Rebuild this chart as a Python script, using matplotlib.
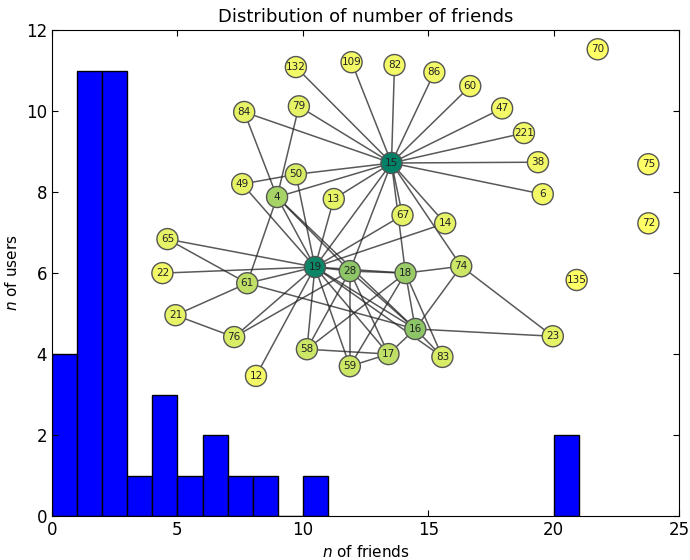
import numpy as np
import matplotlib
matplotlib.use("Agg")
import matplotlib.pyplot as plt

# histogram: number of friends -> number of users
n_friends = [0, 1, 2, 3, 4, 5, 6, 7, 8, 9, 10, 20]
n_users = [4, 11, 11, 1, 3, 1, 2, 1, 1, 0, 1, 2]

# friendship graph (node positions read in the axes' data units)
node_ids = [15, 19, 28, 18, 16, 74, 4, 61, 132, 109, 82, 86, 60, 47, 221, 38, 6,
            70, 75, 72, 135, 84, 79, 50, 49, 13, 67, 14, 65, 22, 21, 76, 12,
            58, 59, 17, 83, 23]
node_x = [13.53, 10.48, 11.87, 14.09, 14.48, 16.31, 8.97, 7.78, 9.72, 11.94, 13.65,
          15.24, 16.67, 17.94, 18.81, 19.37, 19.56, 21.75, 23.77, 23.77, 20.91,
          7.66, 9.84, 9.72, 7.58, 11.23, 13.97, 15.67, 4.60, 4.40, 4.92, 7.26,
          8.13, 10.16, 11.87, 13.41, 15.56, 19.96]
node_y = [8.72, 6.15, 6.05, 6.00, 4.62, 6.17, 7.88, 5.75, 11.09, 11.21, 11.14,
          10.96, 10.62, 10.07, 9.46, 8.74, 7.95, 11.53, 8.69, 7.23, 5.83,
          9.98, 10.12, 8.44, 8.20, 7.83, 7.43, 7.23, 6.84, 6.00, 4.96, 4.42,
          3.46, 4.12, 3.70, 4.00, 3.93, 4.44]
edges = [
    (15, 132), (15, 109), (15, 82), (15, 86), (15, 60), (15, 47), (15, 221),
    (15, 38), (15, 6), (15, 13), (15, 79), (15, 84), (15, 14), (15, 67),
    (15, 50), (15, 4), (15, 19), (15, 28), (15, 18), (15, 74),
    (19, 13), (19, 14), (19, 67), (19, 50), (19, 49), (19, 4), (19, 61),
    (19, 65), (19, 22), (19, 12), (19, 76), (19, 58), (19, 59), (19, 17),
    (19, 16), (19, 28), (19, 18), (19, 83),
    (50, 49), (4, 79), (4, 84), (4, 61), (4, 28), (4, 16),
    (61, 65), (61, 21), (61, 16), (21, 76), (76, 28),
    (28, 18), (28, 58), (28, 59), (28, 17), (28, 16),
    (18, 74), (18, 16), (18, 58), (18, 59), (18, 83),
    (16, 74), (16, 23), (16, 17), (16, 83), (74, 23), (58, 17), (59, 17),
]

pos = {n: (x, y) for n, x, y in zip(node_ids, node_x, node_y)}
degree = {n: 0 for n in node_ids}
for a, b in edges:
    degree[a] += 1
    degree[b] += 1

plt.rcParams['font.family'] = ['DejaVu Sans']
plt.rcParams['mathtext.fontset'] = 'dejavusans'

fig = plt.figure(figsize=(6.9, 5.6), dpi=100)
ax = fig.add_axes([0.0754, 0.0786, 0.9090, 0.8674])

ax.bar(n_friends, n_users, width=1, align='edge', color='#0000ff',
       edgecolor='black', linewidth=1, zorder=1)

for a, b in edges:
    ax.plot([pos[a][0], pos[b][0]], [pos[a][1], pos[b][1]],
            color='#222222', lw=1.1, alpha=0.75, zorder=2)

deg = np.array([degree[n] for n in node_ids])
ax.scatter(node_x, node_y, s=230, c=deg, cmap='summer_r', vmin=0, vmax=deg.max(),
           edgecolors='#555555', linewidths=1, zorder=3)
for n, x, y in zip(node_ids, node_x, node_y):
    ax.text(x, y, str(n), fontsize=7.5, ha='center', va='center',
            color='#222222', zorder=4)

ax.set_xlim(0, 25)
ax.set_ylim(0, 12)
ax.set_xticks([0, 5, 10, 15, 20, 25])
ax.set_yticks([0, 2, 4, 6, 8, 10, 12])
ax.tick_params(direction='in', top=True, right=True, labelsize=12, length=4)
ax.set_title('Distribution of number of friends', fontsize=13)
ax.set_xlabel('$n$ of friends', fontsize=11)
ax.set_ylabel('$n$ of users', fontsize=11)

fig.savefig('out.png', dpi=100)
